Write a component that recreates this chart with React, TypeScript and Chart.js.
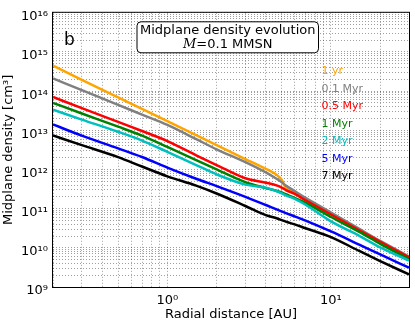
import React, { useEffect, useRef } from "react";
import { Chart, registerables } from "chart.js";

Chart.register(...registerables);

// ---- data ----
const radiusAU = [0.2, 0.3, 0.5, 0.7, 1, 1.5, 2, 3, 4, 4.7, 5, 5.3, 6, 7, 10, 15, 20, 30];

const density1yr = [4.47e14, 1.95e14, 6.96e13, 3.51e13, 1.71e13, 7.5e12, 4.19e12, 1.85e12, 1.04e12, 7.08e11, 5.47e11, 3.35e11, 2.66e11, 1.78e11, 7.72e10, 2.9e10, 1.45e10, 5.79e9];
const density01Myr = [2.11e14, 1.06e14, 4.47e13, 2.51e13, 1.37e13, 5.96e12, 3.27e12, 1.54e12, 8.41e11, 5.62e11, 4.73e11, 3.87e11, 2.82e11, 1.88e11, 7.94e10, 2.99e10, 1.5e10, 5.96e9];
const density05Myr = [7.08e13, 3.69e13, 1.64e13, 9.61e12, 5.31e12, 2.3e12, 1.3e12, 5.96e11, 4.6e11, 3.87e11, 3.45e11, 2.99e11, 2.37e11, 1.63e11, 7.08e10, 2.74e10, 1.43e10, 5.72e9];
const density1Myr = [5.01e13, 2.69e13, 1.24e13, 7.29e12, 3.76e12, 1.73e12, 1.0e12, 4.73e11, 3.35e11, 2.82e11, 2.58e11, 2.33e11, 1.88e11, 1.41e11, 6.13e10, 2.51e10, 1.26e10, 5.16e9];
const density2Myr = [3.35e13, 1.88e13, 9.17e12, 5.47e12, 2.82e12, 1.3e12, 7.5e11, 4.1e11, 3.45e11, 2.74e11, 2.44e11, 2.18e11, 1.78e11, 1.26e11, 4.73e10, 2.0e10, 1.03e10, 4.73e9];
const density5Myr = [1.41e13, 7.29e12, 3.45e12, 2.08e12, 1.12e12, 5.79e11, 3.76e11, 2.0e11, 1.24e11, 9.44e10, 8.51e10, 7.72e10, 6.38e10, 4.95e10, 2.62e10, 1.19e10, 6.8e9, 3.11e9];
const density7Myr = [7.37e12, 4.19e12, 2.07e12, 1.19e12, 6.68e11, 3.87e11, 2.44e11, 1.17e11, 6.84e10, 5.62e10, 5.1e10, 4.65e10, 3.98e10, 3.16e10, 1.88e10, 8.18e9, 4.6e9, 2.09e9];

const seriesLabels = ["1 yr", "0.1 Myr", "0.5 Myr", "1 Myr", "2 Myr", "5 Myr", "7 Myr"];
const seriesValues = [density1yr, density01Myr, density05Myr, density1Myr, density2Myr, density5Myr, density7Myr];
const seriesColors = ["#FFA500", "#808080", "#FF0000", "#008000", "#00BFBF", "#0000FF", "#000000"];

const xTickValues = [0.2, 0.3, 0.4, 0.5, 0.6, 0.7, 0.8, 0.9, 1, 2, 3, 4, 5, 6, 7, 8, 9, 10, 20, 30];
const xTickLabels: Record<string, string> = { "1": "10⁰", "10": "10¹" };
const yMajorTicks = [1e9, 1e10, 1e11, 1e12, 1e13, 1e14, 1e15, 1e16];
const yMinorMultipliers = [2, 3, 4, 5, 6, 7, 8, 9];
const yTickLabels = ["10⁹", "10¹⁰", "10¹¹", "10¹²", "10¹³", "10¹⁴", "10¹⁵", "10¹⁶"];

const xAxisTitle = "Radial distance [AU]";
const yAxisTitle = "Midplane density [cm³]";
const panelLabel = "b";
const boxTitle = "Midplane density evolution";
const boxSubtitleSymbol = "M";
const boxSubtitleRest = "=0.1 MMSN";

const FONT = "'DejaVu Sans', sans-serif";
const GRID_COLOR = "rgba(0,0,0,0.38)";

export default function App() {
  const canvasRef = useRef<HTMLCanvasElement | null>(null);

  useEffect(() => {
    const canvas = canvasRef.current;
    if (!canvas) return;

    const yTickValues: number[] = [];
    yMajorTicks.forEach((m, i) => {
      yTickValues.push(m);
      if (i < yMajorTicks.length - 1) yMinorMultipliers.forEach((k) => yTickValues.push(m * k));
    });
    yTickValues.sort((a, b) => a - b);

    const overlay = {
      id: "overlay",
      afterDatasetsDraw(chart: any) {
        const { ctx, chartArea } = chart;
        const { left, top, right, bottom } = chartArea;
        ctx.save();
        // frame
        ctx.strokeStyle = "#000";
        ctx.lineWidth = 1;
        ctx.setLineDash([]);
        ctx.strokeRect(left - 0.5, top - 0.5, right - left + 1, bottom - top + 1);

        // panel label
        ctx.fillStyle = "#000";
        ctx.font = `17px ${FONT}`;
        ctx.textAlign = "left";
        ctx.textBaseline = "alphabetic";
        ctx.fillText(panelLabel, left + 11, top + 32.5);

        // title box
        const bx = left + 84, by = top + 9, bw = 181.5, bh = 31, r = 4;
        ctx.beginPath();
        ctx.moveTo(bx + r, by);
        ctx.lineTo(bx + bw - r, by);
        ctx.arcTo(bx + bw, by, bx + bw, by + r, r);
        ctx.lineTo(bx + bw, by + bh - r);
        ctx.arcTo(bx + bw, by + bh, bx + bw - r, by + bh, r);
        ctx.lineTo(bx + r, by + bh);
        ctx.arcTo(bx, by + bh, bx, by + bh - r, r);
        ctx.lineTo(bx, by + r);
        ctx.arcTo(bx, by, bx + r, by, r);
        ctx.closePath();
        ctx.fillStyle = "#fff";
        ctx.fill();
        ctx.strokeStyle = "#000";
        ctx.lineWidth = 1;
        ctx.stroke();

        const cx = bx + bw / 2;
        ctx.fillStyle = "#000";
        ctx.font = `13px ${FONT}`;
        ctx.textAlign = "center";
        ctx.fillText(boxTitle, cx, top + 21.5);

        ctx.font = `italic 13px 'DejaVu Serif', serif`;
        const wM = ctx.measureText(boxSubtitleSymbol).width;
        ctx.font = `13px ${FONT}`;
        const wR = ctx.measureText(boxSubtitleRest).width;
        const sx = cx - (wM + wR) / 2;
        ctx.textAlign = "left";
        ctx.font = `italic 13px 'DejaVu Serif', serif`;
        ctx.fillText(boxSubtitleSymbol, sx, top + 35.5);
        ctx.font = `13px ${FONT}`;
        ctx.fillText(boxSubtitleRest, sx + wM, top + 35.5);

        // series labels
        ctx.font = `11px ${FONT}`;
        seriesLabels.forEach((lab, i) => {
          ctx.fillStyle = seriesColors[i];
          ctx.fillText(lab, left + 268.5, top + 61.5 + 17.5 * i);
        });
        ctx.restore();
      },
    };

    const chart = new Chart(canvas, {
      type: "line",
      data: {
        datasets: seriesValues.map((vals, i) => ({
          label: seriesLabels[i],
          data: radiusAU.map((r, j) => ({ x: r, y: vals[j] })),
          borderColor: seriesColors[i],
          backgroundColor: seriesColors[i],
          borderWidth: 2.5,
          pointRadius: 0,
          fill: false,
          cubicInterpolationMode: "monotone" as const,
          order: seriesValues.length - 1 - i,
          clip: 0,
        })),
      },
      options: {
        animation: false,
        responsive: false,
        devicePixelRatio: 1,
        events: [],
        layout: { padding: { top: 7, right: 2, left: 0, bottom: 0 } },
        plugins: { legend: { display: false }, tooltip: { enabled: false }, title: { display: false } },
        scales: {
          x: {
            type: "logarithmic",
            min: 0.2,
            max: 30,
            afterBuildTicks: (scale: any) => {
              scale.ticks = xTickValues.map((v) => ({ value: v }));
            },
            afterFit: (scale: any) => {
              scale.height = 35;
            },
            ticks: {
              autoSkip: false,
              maxRotation: 0,
              padding: 6,
              color: "#000",
              font: { family: FONT, size: 13 },
              callback: (v: any) => xTickLabels[String(v)] ?? "",
            },
            grid: { color: GRID_COLOR, lineWidth: 1, drawTicks: false },
            border: { display: false, dash: [1, 2] },
            title: {
              display: true,
              text: xAxisTitle,
              color: "#000",
              font: { family: FONT, size: 13 },
              padding: { top: 0, bottom: 0 },
            },
          },
          y: {
            type: "logarithmic",
            min: 1e9,
            max: 1e16,
            afterBuildTicks: (scale: any) => {
              scale.ticks = yTickValues.map((v) => ({ value: v }));
            },
            afterFit: (scale: any) => {
              scale.width = 53;
            },
            ticks: {
              autoSkip: false,
              padding: 5,
              labelOffset: 4,
              color: "#000",
              font: { family: FONT, size: 13 },
              callback: (v: any) => {
                const idx = yMajorTicks.findIndex((m) => Math.abs(m - v) / m < 1e-6);
                return idx >= 0 ? yTickLabels[idx] : "";
              },
            },
            grid: { color: GRID_COLOR, lineWidth: 1, drawTicks: false },
            border: { display: false, dash: [1, 2] },
            title: {
              display: true,
              text: yAxisTitle,
              color: "#000",
              font: { family: FONT, size: 13 },
              padding: { top: 0.5, bottom: 0 },
            },
          },
        },
      },
      plugins: [overlay],
    } as any);

    return () => chart.destroy();
  }, []);

  return (
    <div style={{ position: "fixed", left: 0, top: 0, width: 415, height: 322, background: "#fff" }}>
      <canvas ref={canvasRef} width={415} height={322} style={{ display: "block", width: 415, height: 322 }} />
    </div>
  );
}
